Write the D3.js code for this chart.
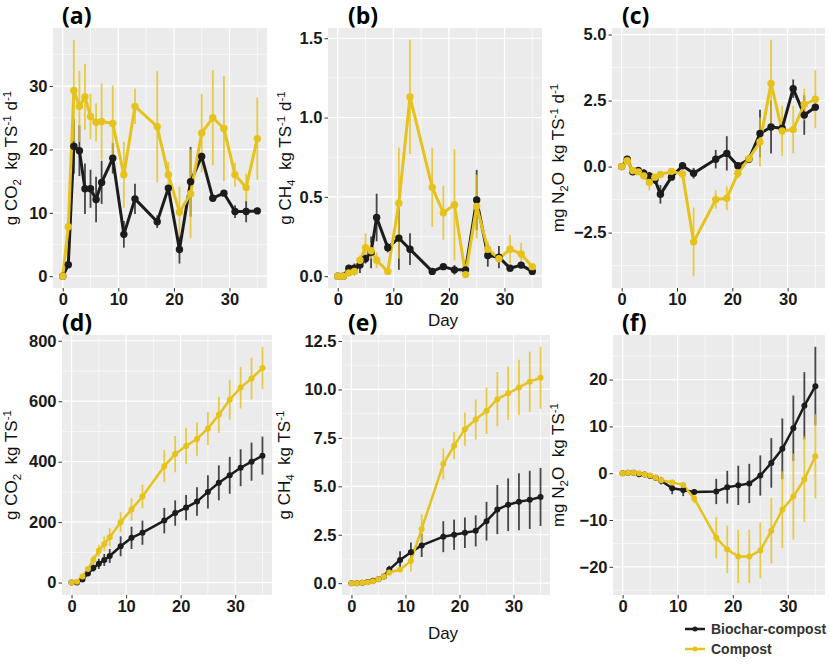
<!DOCTYPE html>
<html><head><meta charset="utf-8">
<script src="https://cdnjs.cloudflare.com/ajax/libs/d3/7.8.5/d3.min.js"></script>
<style>body{margin:0;background:#fff}svg{display:block}</style>
</head><body>
<svg id="chart" width="830" height="664"></svg>
<script>
// ---------------- data ----------------
const days = [0,1,2,3,4,5,6,7,9,11,13,17,19,21,23,25,27,29,31,33,35];
const seriesNames = ["Biochar-compost","Compost"];
const dayTicks = [0,10,20,30];

// (a) CO2 rate, g CO2 kg TS-1 d-1
const co2RateBiochar   = [0,1.8,20.5,19.8,13.8,13.8,12.1,14.8,18.6,6.6,12.2,8.6,13.9,4.2,14.9,18.9,12.3,13.1,10.2,10.2,10.3];
const co2RateBiocharSE = [0,0.3,4.3,4,4,3,3.6,3.4,2.4,2.1,2.4,1,0.5,2.2,5.5,0.6,0.5,0.3,1,1.7,0.5];
const co2RateCompost   = [0,7.8,29.3,26.8,28.3,25.2,24.3,24.4,24.1,16,26.8,23.6,16,10.1,13,22.6,25,23.3,16,14,21.7];
const co2RateCompostSE = [0,0.5,8,5.6,5.2,3.6,3,6,6,5.2,2.8,8.8,2,4,7,6.2,7.5,8.3,1.9,2.2,6.5];
const co2RateTicks = [0,10,20,30];

// (b) CH4 rate
const ch4RateBiochar   = [0,0,0.05,0.05,0.07,0.11,0.15,0.37,0.18,0.24,0.17,0.03,0.06,0.04,0.04,0.48,0.13,0.12,0.05,0.07,0.03];
const ch4RateBiocharSE = [0,0,0.01,0.03,0.05,0.03,0.1,0.15,0.03,0.2,0.1,0.01,0.01,0.03,0.01,0.19,0.07,0.07,0.01,0.02,0.01];
const ch4RateCompost   = [0,0,0.02,0.03,0.1,0.18,0.16,0.1,0.03,0.46,1.13,0.56,0.4,0.45,0.01,0.44,0.17,0.11,0.17,0.14,0.06];
const ch4RateCompostSE = [0,0,0.01,0.03,0.03,0.09,0.05,0.05,0.01,0.35,0.36,0.25,0.17,0.35,0.01,0.2,0.05,0.02,0.09,0.07,0.01];
const ch4RateTicks = [0,0.5,1.0,1.5];

// (c) N2O rate
const n2oRateBiochar   = [0,0.28,-0.2,-0.15,-0.25,-0.35,-0.5,-1.05,-0.4,0.03,-0.25,0.28,0.5,0.03,0.28,1.25,1.5,1.45,2.95,1.95,2.25];
const n2oRateBiocharSE = [0,0.08,0.1,0.1,0.15,0.15,0.15,0.35,0.1,0.05,0.2,0.35,0.65,0.05,0.1,0.9,1.0,0.05,0.35,0.75,0.1];
const n2oRateCompost   = [0,0.22,-0.15,-0.2,-0.35,-0.6,-0.4,-0.3,-0.18,-0.28,-2.85,-1.25,-1.2,-0.25,0.3,0.93,3.15,1.35,1.4,2.35,2.55];
const n2oRateCompostSE = [0,0.05,0.1,0.1,0.1,0.3,0.1,0.1,0.05,0.05,1.3,0.35,0.45,0.2,0.15,0.93,1.65,0.95,0.9,0.6,1.1];
const n2oRateTicks = [-2.5,0,2.5,5.0];

// (d) cumulative CO2
const co2CumBiochar   = [0,0,10,30,48,62,75,88,120,148,165,205,230,248,268,300,330,355,380,400,420];
const co2CumBiocharSE = [0,2,4,8,12,17,20,23,33,37,40,42,42,42,47,55,58,61,61,63,63];
const co2CumCompost   = [0,3,20,45,75,105,128,150,200,242,285,385,425,452,475,510,555,605,645,675,710];
const co2CumCompostSE = [0,2,5,8,15,20,25,30,33,37,39,53,60,59,55,55,60,66,69,69,70];
const co2CumTicks = [0,200,400,600,800];

// (e) cumulative CH4
const ch4CumBiochar   = [0,0,0.02,0.06,0.12,0.2,0.35,0.7,1.2,1.6,1.95,2.4,2.5,2.6,2.7,3.2,3.8,4.05,4.2,4.3,4.45];
const ch4CumBiocharSE = [0,0,0.01,0.02,0.04,0.06,0.1,0.2,0.45,0.5,0.6,0.8,0.78,0.79,0.8,1.0,1.27,1.36,1.47,1.5,1.5];
const ch4CumCompost   = [0,0,0.02,0.05,0.1,0.2,0.35,0.55,0.7,1.15,2.8,6.15,7.1,7.95,8.45,8.9,9.5,9.8,10.1,10.4,10.6];
const ch4CumCompostSE = [0,0,0.01,0.02,0.03,0.06,0.1,0.15,0.1,0.55,0.75,0.8,0.7,0.85,1.03,1.2,1.4,1.37,1.43,1.55,1.6];
const ch4CumTicks = [0,2.5,5.0,7.5,10.0,12.5];

// (f) cumulative N2O
const n2oCumBiochar   = [0,0.1,0.1,-0.2,-0.3,-0.6,-1.0,-1.6,-3.2,-3.6,-4.0,-3.9,-3.0,-2.6,-2.2,-0.5,2.2,5.2,9.6,14.4,18.6];
const n2oCumBiocharSE = [0,0.1,0.2,0.3,0.4,0.5,0.6,0.8,1.3,1.3,0.6,2.7,3.5,4.2,4.2,4.3,5.3,6.5,7,7.2,8.4];
const n2oCumCompost   = [0,0.1,0.1,0,-0.3,-0.5,-1.0,-1.5,-2.0,-2.5,-5.4,-13.8,-16.3,-17.8,-17.8,-16.5,-12.3,-7.8,-5.0,-1.3,3.6];
const n2oCumCompostSE = [0,0.1,0.1,0.2,0.3,0.4,0.5,0.6,0.6,0.5,1,4.4,5.1,5.7,5.7,6,7,8.2,9.2,9.1,9];
const n2oCumTicks = [-20,-10,0,10,20];

// ---------------- style / layout ----------------
const colors = {"Biochar-compost":"#1c1c1c","Compost":"#e6c21c"};
const svg = d3.select("#chart");
const FONT = "'Liberation Sans', Arial, sans-serif";

const tCO2d = [["g CO","n"],["2","sub"],["  kg TS","n"],["-1","sup"],[" d","n"],["-1","sup"]];
const tCH4d = [["g CH","n"],["4","sub"],["  kg TS","n"],["-1","sup"],[" d","n"],["-1","sup"]];
const tN2Od = [["mg N","n"],["2","sub"],["O  kg TS","n"],["-1","sup"],[" d","n"],["-1","sup"]];
const tCO2 = [["g CO","n"],["2","sub"],["  kg TS","n"],["-1","sup"]];
const tCH4 = [["g CH","n"],["4","sub"],["  kg TS","n"],["-1","sup"]];
const tN2O = [["mg N","n"],["2","sub"],["O  kg TS","n"],["-1","sup"]];

const panels = [
  {label:"(a)", box:[53,267,28,288], lx:62, ly:24, tx:17, b:co2RateBiochar, bse:co2RateBiocharSE, c:co2RateCompost, cse:co2RateCompostSE, ticks:co2RateTicks, fmt:d3.format("d"), title:tCO2d, day:false, lw:3, r:3.7},
  {label:"(b)", box:[328,542,28,288], lx:348, ly:24, tx:291, b:ch4RateBiochar, bse:ch4RateBiocharSE, c:ch4RateCompost, cse:ch4RateCompostSE, ticks:ch4RateTicks, fmt:d3.format(".1f"), title:tCH4d, day:true, dayY:326, lw:3, r:3.7},
  {label:"(c)", box:[612,825,28,288], lx:622, ly:24, tx:564, b:n2oRateBiochar, bse:n2oRateBiocharSE, c:n2oRateCompost, cse:n2oRateCompostSE, ticks:n2oRateTicks, fmt:d3.format(".1f"), title:tN2Od, day:false, lw:3, r:3.7},
  {label:"(d)", box:[62,272,335,595], lx:62, ly:331, tx:17, b:co2CumBiochar, bse:co2CumBiocharSE, c:co2CumCompost, cse:co2CumCompostSE, ticks:co2CumTicks, fmt:d3.format("d"), title:tCO2, day:false, lw:2.5, r:3},
  {label:"(e)", box:[342,550,335,595], lx:348, ly:331, tx:290, b:ch4CumBiochar, bse:ch4CumBiocharSE, c:ch4CumCompost, cse:ch4CumCompostSE, ticks:ch4CumTicks, fmt:d3.format(".1f"), title:tCH4, day:true, dayY:639, lw:2.5, r:3},
  {label:"(f)", box:[613,825,335,595], lx:622, ly:331, tx:564, b:n2oCumBiochar, bse:n2oCumBiocharSE, c:n2oCumCompost, cse:n2oCumCompostSE, ticks:n2oCumTicks, fmt:d3.format("d"), title:tN2O, day:false, lw:2.5, r:3}
];

function addTitle(g, parts, x, y, size) {
  const t = g.append("text").attr("transform", `translate(${x},${y}) rotate(-90)`)
    .attr("text-anchor","middle").attr("font-family",FONT).attr("font-size",size)
    .attr("fill","#111").style("white-space","pre");
  let shift = 0;
  parts.forEach(([s,k]) => {
    const target = k==="sub" ? 4 : k==="sup" ? -6 : 0;
    t.append("tspan").attr("dy", target - shift)
      .attr("font-size", k==="n" ? size : size*0.68).text(s);
    shift = target;
  });
}

panels.forEach(p => {
  const [L,R,T,B] = p.box;
  const g = svg.append("g");
  const series = [
    {name:seriesNames[0], v:p.b, se:p.bse},
    {name:seriesNames[1], v:p.c, se:p.cse}
  ];
  let lo = Infinity, hi = -Infinity;
  series.forEach(s => s.v.forEach((v,i) => { lo = Math.min(lo, v - s.se[i]); hi = Math.max(hi, v + s.se[i]); }));
  const pad = (hi - lo) * 0.05;
  const x = d3.scaleLinear().domain([-1.75, 36.75]).range([L,R]);
  const y = d3.scaleLinear().domain([lo - pad, hi + pad]).range([B,T]);

  g.append("rect").attr("x",L).attr("y",T).attr("width",R-L).attr("height",B-T).attr("fill","#ebebeb");
  const xMinor = [5,15,25,35];
  const step = p.ticks[1]-p.ticks[0];
  const yMinor = [p.ticks[0]-step/2].concat(p.ticks.map(t=>t+step/2)).filter(v => v>y.domain()[0] && v<y.domain()[1]);
  g.selectAll(null).data(xMinor).enter().append("line")
    .attr("x1",d=>x(d)).attr("x2",d=>x(d)).attr("y1",T).attr("y2",B).attr("stroke","#fff").attr("stroke-width",0.6);
  g.selectAll(null).data(yMinor).enter().append("line")
    .attr("y1",d=>y(d)).attr("y2",d=>y(d)).attr("x1",L).attr("x2",R).attr("stroke","#fff").attr("stroke-width",0.6);
  g.selectAll(null).data(dayTicks).enter().append("line")
    .attr("x1",d=>x(d)).attr("x2",d=>x(d)).attr("y1",T).attr("y2",B).attr("stroke","#fff").attr("stroke-width",1.2);
  g.selectAll(null).data(p.ticks).enter().append("line")
    .attr("y1",d=>y(d)).attr("y2",d=>y(d)).attr("x1",L).attr("x2",R).attr("stroke","#fff").attr("stroke-width",1.2);

  const xAxis = d3.axisBottom(x).tickValues(dayTicks).tickSize(3.5).tickPadding(2).tickFormat(d3.format("d"));
  const yAxis = d3.axisLeft(y).tickValues(p.ticks).tickSize(3.5).tickPadding(2).tickFormat(p.fmt);
  [g.append("g").attr("transform",`translate(0,${B})`).call(xAxis),
   g.append("g").attr("transform",`translate(${L},0)`).call(yAxis)].forEach(a => {
    a.select(".domain").remove();
    a.selectAll(".tick line").attr("stroke","#333").attr("stroke-width",1);
    a.selectAll(".tick text").attr("font-family",FONT).attr("font-size",16.5).attr("font-weight","bold").attr("fill","#1a1a1a");
  });

  const line = d3.line().x((d,i)=>x(days[i])).y(d=>y(d));
  series.forEach(s => {
    g.selectAll(null).data(s.v).enter().append("line")
      .attr("x1",(d,i)=>x(days[i])).attr("x2",(d,i)=>x(days[i]))
      .attr("y1",(d,i)=>y(d - s.se[i])).attr("y2",(d,i)=>y(d + s.se[i]))
      .attr("stroke",colors[s.name]).attr("stroke-width",1.8).attr("stroke-opacity",0.8);
  });
  series.forEach(s => {
    g.append("path").datum(s.v).attr("d",line).attr("fill","none")
      .attr("stroke",colors[s.name]).attr("stroke-width",p.lw).attr("stroke-linejoin","round");
  });
  series.forEach(s => {
    g.selectAll(null).data(s.v).enter().append("circle")
      .attr("cx",(d,i)=>x(days[i])).attr("cy",d=>y(d)).attr("r",p.r).attr("fill",colors[s.name]);
  });

  g.append("text").attr("x",p.lx).attr("y",p.ly).attr("font-family","'Open Sans', sans-serif")
    .attr("font-weight","bold").attr("font-size",23).attr("fill","#000").text(p.label);
  addTitle(g, p.title, p.tx, (T+B)/2, 17);
  if (p.day) {
    g.append("text").attr("x",443).attr("y",p.dayY).attr("text-anchor","middle")
      .attr("font-family",FONT).attr("font-size",17).attr("fill","#111").text("Day");
  }
});

const leg = svg.append("g");
seriesNames.forEach((n,i) => {
  const yy = 629 + i*20;
  leg.append("line").attr("x1",685).attr("x2",705).attr("y1",yy).attr("y2",yy)
    .attr("stroke",colors[n]).attr("stroke-width",2.5);
  leg.append("circle").attr("cx",695).attr("cy",yy).attr("r",2.5).attr("fill",colors[n]);
  leg.append("text").attr("x",711).attr("y",yy+5).attr("font-family",FONT)
    .attr("font-weight","bold").attr("font-size",14).attr("fill","#333").text(n);
});
</script>
</body></html>
